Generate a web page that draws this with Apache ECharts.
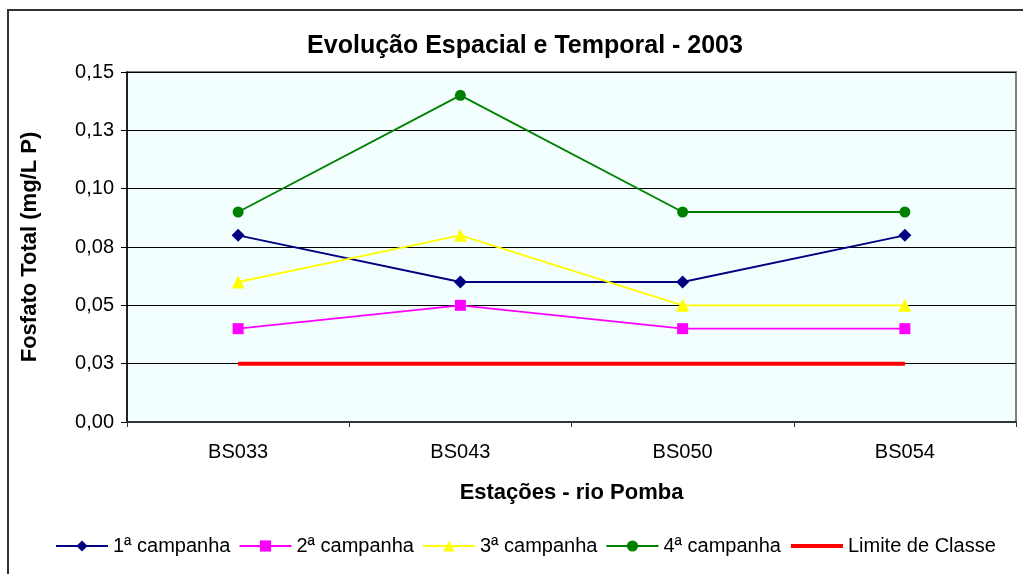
<!DOCTYPE html>
<html>
<head>
<meta charset="utf-8">
<script src="https://cdn.jsdelivr.net/npm/echarts@6/dist/echarts.min.js"></script>
<style>
  html, body { margin: 0; padding: 0; background: #ffffff; }
  #chart { width: 1023px; height: 574px; }
</style>
</head>
<body>
<div id="chart"></div>
<script>
// Stations along the rio Pomba
const stations = ['BS033', 'BS043', 'BS050', 'BS054'];

// Total phosphate (mg/L P) per sampling campaign
const campanha1 = [0.08, 0.06, 0.06, 0.08];
const campanha2 = [0.04, 0.05, 0.04, 0.04];
const campanha3 = [0.06, 0.08, 0.05, 0.05];
const campanha4 = [0.09, 0.14, 0.09, 0.09];
const limiteClasse = [0.025, 0.025, 0.025, 0.025];

// Y axis tick labels (step 0.025, shown with two decimals)
const yTickStep = 0.025;
const yTickLabels = ['0,00', '0,03', '0,05', '0,08', '0,10', '0,13', '0,15'];

const font = 'Arial, "Liberation Sans", sans-serif';

const chart = echarts.init(document.getElementById('chart'), null, { renderer: 'canvas' });

const lineSeries = (name, data, color, symbol, size) => ({
  name: name,
  type: 'line',
  data: data,
  symbol: symbol,
  symbolSize: size,
  showSymbol: true,
  lineStyle: { color: color, width: 1.8 },
  itemStyle: { color: color },
  emphasis: { disabled: true },
  animation: false,
  z: 3
});

chart.setOption({
  animation: false,
  backgroundColor: '#ffffff',
  textStyle: { fontFamily: font },
  graphic: [{
    type: 'rect',
    shape: { x: 8, y: 10, width: 1030, height: 580 },
    style: { fill: 'none', stroke: '#333333', lineWidth: 2 },
    silent: true,
    z: -10
  }],
  title: {
    text: 'Evolução Espacial e Temporal - 2003',
    left: 520,
    top: 29,
    textAlign: 'center',
    textStyle: { fontFamily: font, fontSize: 25, fontWeight: 'bold', color: '#000' }
  },
  grid: {
    left: 127, right: 7, top: 72, bottom: 152,
    show: true,
    backgroundColor: '#F3FFFF',
    borderColor: '#808080',
    borderWidth: 2
  },
  legend: {
    left: 50,
    top: 531,
    itemWidth: 52,
    itemHeight: 14,
    itemGap: 8,
    textStyle: { fontFamily: font, fontSize: 20, color: '#000' },
    data: [
      { name: '1ª campanha', lineStyle: { width: 2 } },
      { name: '2ª campanha', lineStyle: { width: 2 } },
      { name: '3ª campanha', lineStyle: { width: 2 } },
      { name: '4ª campanha', lineStyle: { width: 2 } },
      { name: 'Limite de Classe', itemStyle: { opacity: 0 }, lineStyle: { width: 4 } }
    ]
  },
  xAxis: {
    type: 'category',
    data: stations,
    boundaryGap: true,
    name: 'Estações - rio Pomba',
    nameLocation: 'middle',
    nameGap: 60,
    nameTextStyle: { fontFamily: font, fontSize: 22, fontWeight: 'bold', color: '#000' },
    axisLine: { lineStyle: { color: '#333', width: 2 } },
    axisTick: { show: true, inside: false, length: 5, lineStyle: { color: '#333' } },
    axisLabel: { fontFamily: font, fontSize: 20, color: '#000', margin: 20 },
    splitLine: { show: false }
  },
  yAxis: {
    type: 'value',
    min: 0,
    max: 0.15,
    interval: yTickStep,
    name: 'Fosfato Total (mg/L P)',
    nameLocation: 'middle',
    nameGap: 86,
    nameRotate: 90,
    nameTextStyle: { fontFamily: font, fontSize: 22, fontWeight: 'bold', color: '#000' },
    axisLine: { show: true, lineStyle: { color: '#000', width: 1.5 } },
    axisTick: { show: true, inside: false, length: 6, lineStyle: { color: '#000' } },
    axisLabel: {
      fontFamily: font, fontSize: 20, color: '#000', margin: 13,
      formatter: v => yTickLabels[Math.round(v / yTickStep)]
    },
    splitLine: { show: true, lineStyle: { color: '#000', width: 1.2 } }
  },
  series: [
    lineSeries('1ª campanha', campanha1, '#000080', 'diamond', 13),
    lineSeries('2ª campanha', campanha2, '#FF00FF', 'rect', 11),
    lineSeries('3ª campanha', campanha3, '#FFFF00', 'triangle', 13),
    lineSeries('4ª campanha', campanha4, '#008000', 'circle', 11),
    {
      name: 'Limite de Classe',
      type: 'line',
      data: limiteClasse,
      symbol: 'none',
      lineStyle: { color: '#FF0000', width: 4 },
      itemStyle: { color: '#FF0000' },
      emphasis: { disabled: true },
      animation: false,
      z: 2
    }
  ]
});
</script>
</body>
</html>
